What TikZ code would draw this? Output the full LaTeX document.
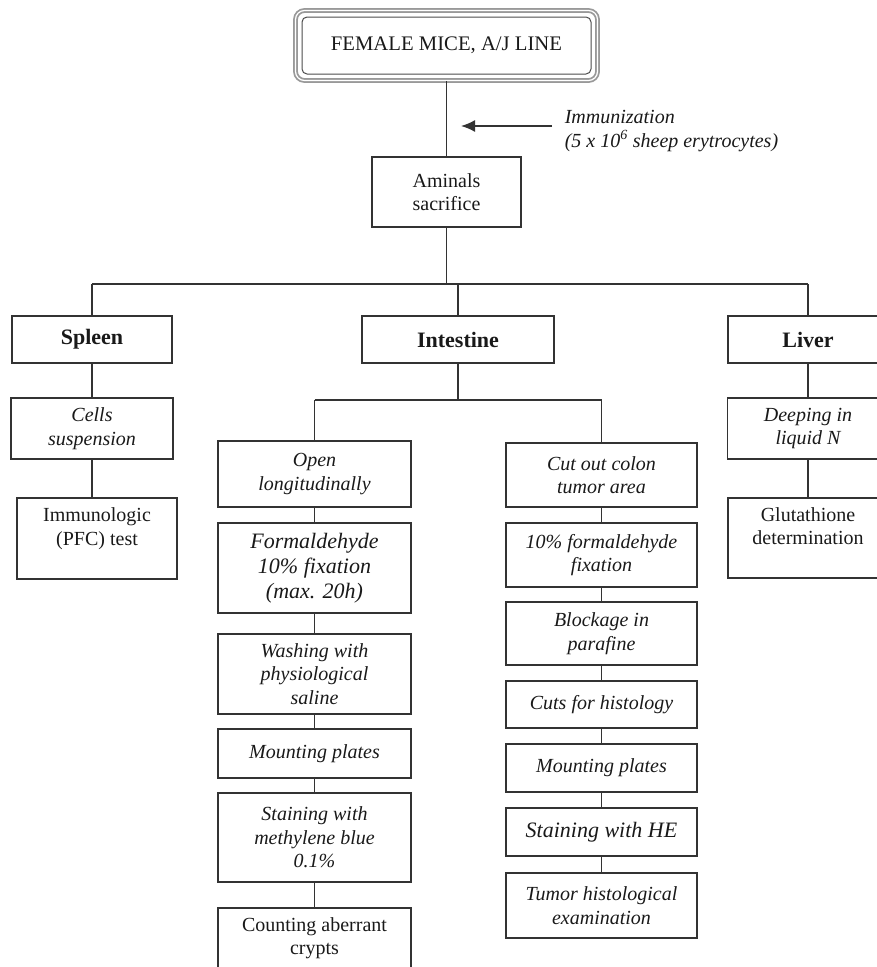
\documentclass[tikz,border=0pt]{standalone}
\usepackage{fontspec}
\setmainfont{Liberation Serif}
\usetikzlibrary{arrows.meta,positioning}

\begin{document}
\begin{tikzpicture}[x=1pt, y=-1pt,
    every node/.style={draw=black!80, line width=1.6pt, align=center, inner sep=1pt, text=black!90},
    size/.style 2 args={minimum width=#1pt, minimum height=#2pt},
    plain/.style={font=\fontsize{20}{23.5}\selectfont},
    slant/.style={font=\fontsize{20}{23.5}\selectfont\itshape},
    bigslant/.style={font=\fontsize{22}{25}\selectfont\itshape},
    organ/.style={font=\fontsize{22}{25}\selectfont\bfseries},
    titlebox/.style={draw=black!40, line width=1.8pt, double=white, double distance=1.2pt,
                     rounded corners=9pt, font=\fontsize{20.7}{24}\selectfont},
    conn/.style={draw=black!80, line width=1.6pt}]
    \path[use as bounding box, clip] (0,0) rectangle (877,967);

    % top of the tree
    \node[titlebox, size={302}{70}] (mice) at (446.5,45.5) {FEMALE MICE, A/J LINE};
    \node[draw=black!70, line width=1pt, rounded corners=5pt, size={289}{57}] at (mice) {};
    \node[plain, size={149}{70}] (sacrifice) at (446.5,192) {Aminals\\sacrifice};
    \coordinate (immhead) at (461,126);
    \node[draw=none, slant, align=left, anchor=west, inner xsep=12pt, inner ysep=0pt] (immun) at (552,131)
        {Immunization\\(5 x 10\textsuperscript{6} sheep erytrocytes)};
    \draw[conn, -{Latex[length=14pt,width=12pt]}] (immun.west |- immhead) -- (immhead);

    % organs
    \coordinate (organbar) at (0,284);
    \node[organ, size={160}{47}] (spleen) at (92,339.5) {Spleen};
    \node[organ, size={192}{47}] (intestine) at (458,339.5) {Intestine};
    \node[organ, size={160}{47}] (liver) at (808,339.5) {Liver};

    % spleen and liver
    \node[slant, size={162}{61}] (cells) at (92,428.5) {Cells\\suspension};
    \node[plain, size={160}{81}] (pfc) at (97,538.5) {Immunologic\\(PFC) test\\\mbox{}};
    \node[slant, size={161}{61}] (deeping) at (808,428.5) {Deeping in\\liquid N};
    \node[plain, size={160}{80}] (glutathione) at (808,538) {Glutathione\\determination\\\mbox{}};

    % intestine, left branch
    \coordinate (gutbar) at (0,400);
    \node[slant, size={193}{66}] (open) at (314.5,474) {Open\\longitudinally};
    \node[bigslant, size={193}{90}] (fixation) at (314.5,568) {Formaldehyde\\10\% fixation\\(max. 20h)};
    \node[slant, size={193}{80}] (washing) at (314.5,674) {Washing with\\physiological\\saline};
    \node[slant, size={193}{49}] (plates) at (314.5,753.5) {Mounting plates};
    \node[slant, size={193}{89}] (staining) at (314.5,837.5) {Staining with\\methylene blue\\0.1\%};
    \node[plain, size={193}{80}, anchor=north] (counting) at (314.5,907) {Counting aberrant\\crypts\\\mbox{}};

    % intestine, right branch
    \node[slant, size={191}{64}] (cutout) at (601.5,475) {Cut out colon\\tumor area};
    \node[slant, size={191}{64}] (fixation2) at (601.5,555) {10\% formaldehyde\\fixation};
    \node[slant, size={191}{63}] (paraffin) at (601.5,633.5) {Blockage in\\parafine};
    \node[slant, size={191}{47}] (cuts) at (601.5,704.5) {Cuts for histology};
    \node[slant, size={191}{48}] (plates2) at (601.5,768) {Mounting plates};
    \node[bigslant, size={191}{48}] (stainhe) at (601.5,832) {Staining with HE};
    \node[slant, size={191}{65}] (tumor) at (601.5,905.5) {Tumor histological\\examination};

    % connectors
    \draw[conn] (mice) -- (sacrifice);
    \draw[conn] (sacrifice) -- (sacrifice |- organbar);
    \draw[conn] (spleen |- organbar) -- (liver |- organbar);
    \foreach \organ in {spleen, intestine, liver}
        \draw[conn] (\organ |- organbar) -- (\organ);
    \draw[conn] (intestine) -- (intestine |- gutbar);
    \draw[conn] (open |- gutbar) -- (cutout |- gutbar);
    \foreach \first in {open, cutout}
        \draw[conn] (\first |- gutbar) -- (\first);
    \foreach \a/\b in {spleen/cells, cells/pfc, liver/deeping, deeping/glutathione,
                       open/fixation, fixation/washing, washing/plates, plates/staining, staining/counting,
                       cutout/fixation2, fixation2/paraffin, paraffin/cuts, cuts/plates2, plates2/stainhe, stainhe/tumor}
        \draw[conn] (\a.south) -- (\a.south |- \b.north);
\end{tikzpicture}
\end{document}
